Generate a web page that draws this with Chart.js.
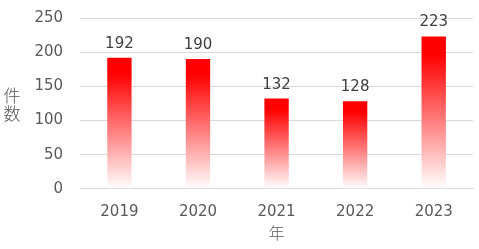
<!DOCTYPE html>
<html><head><meta charset="utf-8">
<script src="https://cdn.jsdelivr.net/npm/chart.js@4/dist/chart.umd.min.js"></script>
<style>html,body{margin:0;padding:0;background:#fff}#w{width:479px;height:249px}</style>
</head><body><div id="w"><canvas id="c"></canvas></div>
<script>
const categories = ['2019','2020','2021','2022','2023'];
const counts = [192,190,132,128,223];
const yTicks = [0,50,100,150,200,250];
const yTitle = ['件','数'];
const xTitle = '年';
const FONT = "'DejaVu Sans', 'Noto Sans CJK JP', sans-serif";
const CJK = "'Noto Sans CJK JP', sans-serif";
const TXT = '#595959';

const labelPlugin = {
  id:'labels',
  afterDatasetsDraw(chart){
    const ctx = chart.ctx;
    const ys = chart.scales.y;
    const meta = chart.getDatasetMeta(0);
    ctx.save();
    ctx.font = '15px ' + FONT;
    ctx.fillStyle = '#404040';
    ctx.textAlign = 'center';
    ctx.textBaseline = 'alphabetic';
    meta.data.forEach((el,i)=>{
      ctx.fillText(String(counts[i]), el.x, ys.getPixelForValue(counts[i]) - 10);
    });
    const cy = (ys.top + ys.bottom)/2;
    ctx.font = '300 17px ' + CJK;
    ctx.fillStyle = TXT;
    ctx.textBaseline = 'middle';
    ctx.fillText(yTitle[0], 12, cy - 8);
    ctx.fillText(yTitle[1], 12, cy + 10);
    ctx.restore();
  }
};

new Chart(document.getElementById('c'), {
  type:'bar',
  data:{labels:categories, datasets:[{
    data:counts,
    backgroundColor(ctx){
      const chart = ctx.chart;
      if(!chart.chartArea || ctx.dataIndex === undefined) return '#ff0000';
      const ys = chart.scales.y;
      const top = ys.getPixelForValue(counts[ctx.dataIndex]);
      const bottom = ys.getPixelForValue(0);
      const g = chart.ctx.createLinearGradient(0, top, 0, bottom);
      g.addColorStop(0,'#ff0000');
      g.addColorStop(0.12,'#ff0000');
      g.addColorStop(1,'#ffffff');
      return g;
    },
    barPercentage:0.31, categoryPercentage:1
  }]},
  options:{
    responsive:true, maintainAspectRatio:false, animation:false,
    layout:{padding:{left:17.5,right:6,top:18,bottom:6}},
    plugins:{legend:{display:false}, tooltip:{enabled:false}},
    scales:{
      x:{grid:{display:false,tickLength:0}, border:{color:'#d9d9d9'},
         ticks:{color:TXT,font:{family:FONT,size:15},padding:14},
         title:{display:true,text:xTitle,color:TXT,font:{family:CJK,size:16,weight:300},padding:{top:-11,bottom:0}}},
      y:{min:0,max:250,afterBuildTicks(ax){ax.ticks = yTicks.map(v=>({value:v}));},
         afterFit(ax){ax.paddingTop = 0; ax.paddingBottom = 0;},
         grid:{color:'#d9d9d9',drawTicks:false}, border:{display:false},
         ticks:{color:TXT,font:{family:FONT,size:15},padding:17}}
    }
  },
  plugins:[labelPlugin]
});
</script></body></html>
